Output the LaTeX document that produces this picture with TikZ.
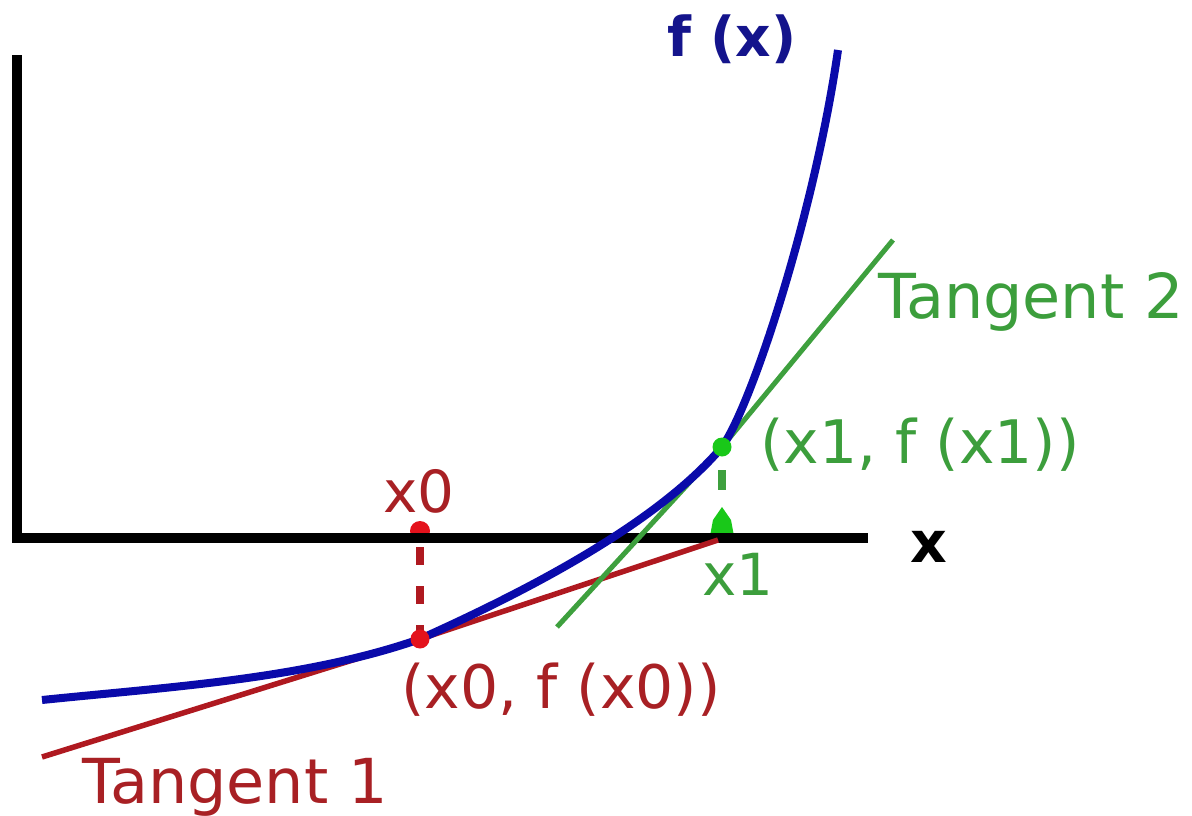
\documentclass[tikz,border=0pt]{standalone}
\usepackage{fontspec}
\setmainfont{DejaVu Sans}
\definecolor{curveblue}{RGB}{10,10,170}
\definecolor{fxblue}{RGB}{20,20,140}
\definecolor{redline}{RGB}{175,25,32}
\definecolor{redtext}{RGB}{168,32,36}
\definecolor{reddot}{RGB}{228,18,28}
\definecolor{greenline}{RGB}{62,160,62}
\definecolor{greentext}{RGB}{60,158,60}
\definecolor{greendot}{RGB}{25,200,25}
\begin{document}
\begin{tikzpicture}[x=1pt,y=-1pt,
  lab/.style={inner sep=0pt,anchor=base,font=\fontsize{60}{62}\selectfont},
  smalllab/.style={inner sep=0pt,anchor=base,font=\fontsize{58}{60}\selectfont},
  biglab/.style={inner sep=0pt,anchor=base,font=\fontsize{62}{64}\selectfont},
  boldlab/.style={inner sep=0pt,anchor=base,font=\fontsize{55}{60}\selectfont\bfseries},
  dotmark/.style={circle,inner sep=0pt,minimum size=19pt},
  pt/.style={inner sep=0pt,minimum size=0pt}]
\useasboundingbox (0,0) rectangle (1192,816);
% named points
\coordinate (O) at (17,538);
\coordinate (Ytop) at (17,60);
\coordinate (Xend) at (863,538);
\coordinate (T1a) at (42,757);
\coordinate (T1b) at (718,540);
\coordinate (T2a) at (557,627);
\coordinate (T2b) at (893,240);
\coordinate (R0) at (420,547);
\coordinate (G0) at (722,470);
\coordinate (Cs) at (42,700);
\coordinate (Ce) at (838,50);
% markers on the axis (partly hidden by it)
\node[dotmark,fill=reddot,minimum size=20pt] (A0) at (420,531) {};
\fill[greendot] (722,507) -- (731,520) -- (734,536) -- (710,536) -- (713,520) -- cycle;
\coordinate (A1) at (722,508);
% axes
\draw[line width=10pt,line cap=rect,line join=miter] (Ytop) -- (O) -- (Xend);
% tangent 1
\node[pt] (P0) at (420,639) {};
\draw[redline,line width=5.5pt] (T1a) -- (P0.center) -- (T1b);
% tangent 2
\node[pt] (P1) at (722,447) {};
\draw[greenline,line width=5pt] (T2a) -- (P1.center) -- (T2b);
% curve f(x)
\draw[curveblue,line width=8pt]
  (Cs) .. controls (168,687) and (306,679) .. (P0.center)
       .. controls (520,594) and (655,526) .. (P1.center)
       .. controls (753,403) and (815,210) .. (Ce);
% dashed drops
\draw[redline,line width=8pt,dash pattern=on 18pt off 21pt] (R0) -- (P0.center);
\draw[greenline,line width=8pt,dash pattern=on 20pt off 60pt] (G0) -- (A1);
% points on the curve
\node[dotmark,fill=reddot,minimum size=19pt] (D0) at (P0) {};
\node[dotmark,fill=greendot,minimum size=19pt] (D1) at (P1) {};
% labels
\node[boldlab,text=fxblue] (fx) at (732,57) {f (x)};
\node[boldlab,text=black,font=\fontsize{57}{60}\selectfont\bfseries] (xl) at (929,562) {x};
\node[smalllab,text=redtext] (x0) at (419,512) {x0};
\node[smalllab,text=greentext] (x1) at (738,595) {x1};
\node[lab,text=redtext] (p0) at (561,708) {(x0, f (x0))};
\node[lab,text=greentext] (p1) at (920,463) {(x1, f (x1))};
\node[biglab,text=redtext] (t1) at (235,803) {Tangent 1};
\node[biglab,text=greentext] (t2) at (1031,318) {Tangent 2};
\end{tikzpicture}
\end{document}
